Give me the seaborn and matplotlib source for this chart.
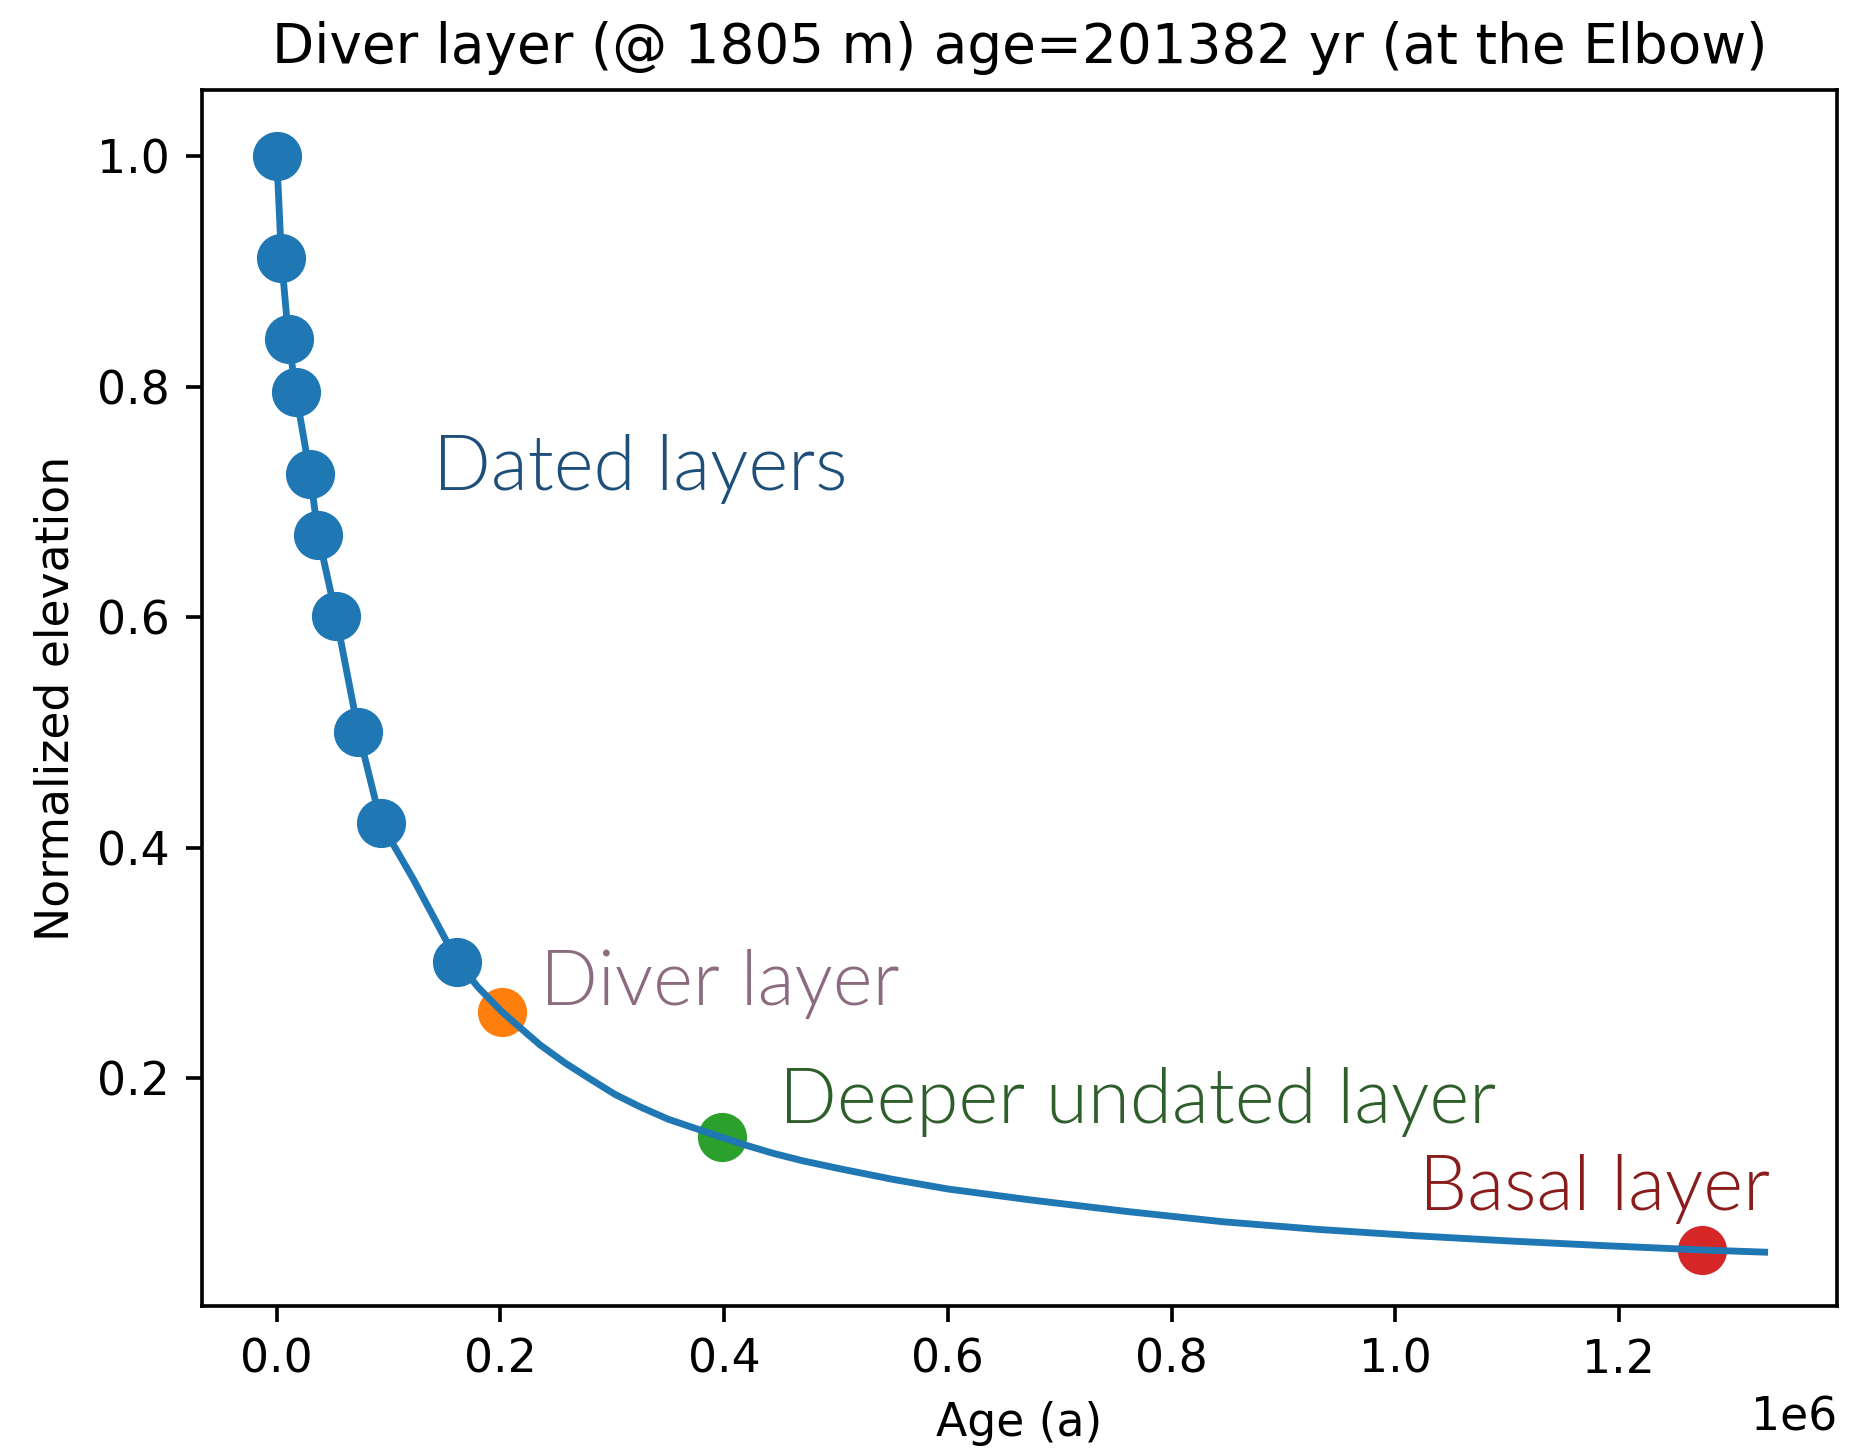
import matplotlib
matplotlib.use("Agg")
import matplotlib.pyplot as plt
import seaborn as sns

# ---- data ----
dated_age = [0.0, 0.0042e6, 0.0106e6, 0.017e6, 0.0297e6, 0.0371e6, 0.053e6, 0.0731e6, 0.0933e6, 0.1615e6]
dated_elev = [1.0, 0.9116, 0.8416, 0.7954, 0.7244, 0.671, 0.601, 0.5003, 0.421, 0.3013]

diver_age = [0.201382e6]
diver_elev = [0.2577]
deeper_age = [0.3981e6]
deeper_elev = [0.1488]
basal_age = [1.2745e6]
basal_elev = [0.0511]

curve_age = [0.0, 0.0042e6, 0.0106e6, 0.017e6, 0.0297e6, 0.0371e6, 0.053e6, 0.0731e6,
             0.0933e6, 0.1221e6, 0.1615e6, 0.18e6, 0.201382e6, 0.22e6, 0.2354e6, 0.2575e6,
             0.2801e6, 0.3025e6, 0.3248e6, 0.35e6, 0.3981e6, 0.42e6, 0.444e6, 0.47e6,
             0.5037e6, 0.55e6, 0.6e6, 0.6747e6, 0.76e6, 0.8457e6, 0.93e6,
             1.0168e6, 1.1e6, 1.1878e6, 1.2745e6, 1.3303e6]
curve_elev = [1.0, 0.9116, 0.8416, 0.7954, 0.7244, 0.671, 0.601, 0.5003,
              0.421, 0.3728, 0.3013, 0.279, 0.2577, 0.2419, 0.229, 0.2135,
              0.1995, 0.186, 0.1753, 0.1645, 0.1488, 0.1418, 0.1349, 0.1285,
              0.1215, 0.1125, 0.1040, 0.0944, 0.0845, 0.0756, 0.0690,
              0.0635, 0.0590, 0.0548, 0.0511, 0.0492]

title = "Diver layer (@ 1805 m) age=201382 yr (at the Elbow)"
xlabel = "Age (a)"
ylabel = "Normalized elevation"

labels = ["Dated layers", "Diver layer", "Deeper undated layer", "Basal layer"]
label_x = [0.1397e6, 0.2351e6, 0.4494e6, 1.0209e6]
label_y = [0.710, 0.2638, 0.1609, 0.0858]
label_colors = ["#1e4f7a", "#8c6b80", "#2e5f2b", "#8b1c1c"]

# ---- style (default matplotlib look, scaled ~1.097) ----
k = 1.097
plt.rcParams.update({
    "axes.linewidth": 0.8 * k,
    "xtick.major.size": 3.5 * k, "ytick.major.size": 3.5 * k,
    "xtick.major.width": 0.8 * k, "ytick.major.width": 0.8 * k,
    "xtick.major.pad": 3.5 * k, "ytick.major.pad": 3.5 * k,
    "xtick.labelsize": 10 * k, "ytick.labelsize": 10 * k,
    "axes.labelsize": 10 * k, "axes.titlesize": 12 * k,
    "axes.labelpad": 4 * k, "axes.titlepad": 6 * k,
})

fig = plt.figure(figsize=(6.2, 4.84), dpi=300)
ax = fig.add_axes([202 / 1860, 1 - 1306 / 1452, 1635 / 1860, 1216 / 1452])

ms = 11.8
for xs, ys, c in [(dated_age, dated_elev, "#1f77b4"), (diver_age, diver_elev, "#ff7f0e"),
                  (deeper_age, deeper_elev, "#2ca02c"), (basal_age, basal_elev, "#d62728")]:
    sns.scatterplot(x=xs, y=ys, ax=ax, color=c, s=ms ** 2, linewidth=0, zorder=2)

sns.lineplot(x=curve_age, y=curve_elev, ax=ax, color="#1f77b4", linewidth=1.5 * k, sort=False,
             estimator=None, zorder=3)

ax.set_xlim(-0.0668e6, 1.395e6)
ax.set_ylim(0.0025, 1.0572)
ax.set_yticks([0.2, 0.4, 0.6, 0.8, 1.0])
ax.set_xticks([0, 0.2e6, 0.4e6, 0.6e6, 0.8e6, 1.0e6, 1.2e6])

ax.set_title(title)
ax.set_xlabel(xlabel)
ax.set_ylabel(ylabel)

for t, x, y, c in zip(labels, label_x, label_y, label_colors):
    ax.text(x, y, t, color=c, fontsize=18.3, family="Lato", fontweight=300,
            ha="left", va="baseline", zorder=4)

fig.savefig("out.png", dpi=300)
